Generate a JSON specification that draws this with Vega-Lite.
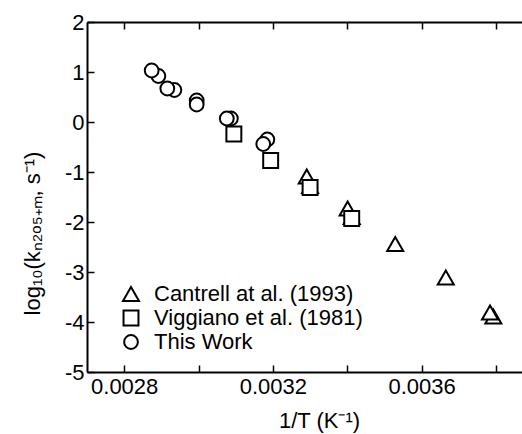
{
  "$schema": "https://vega.github.io/schema/vega-lite/v6.json",
  "width": 435,
  "height": 350,
  "autosize": {"type": "none"},
  "padding": {"left": 87, "top": 22, "right": 0, "bottom": 62},
  "config": {
    "view": {"stroke": null},
    "font": "Liberation Sans",
    "axis": {
      "domainColor": "black",
      "domainWidth": 2,
      "tickColor": "black",
      "tickWidth": 1.5,
      "tickSize": -7,
      "labelFont": "Liberation Sans",
      "labelFontSize": 22,
      "labelColor": "black",
      "titleFont": "Liberation Sans",
      "titleFontSize": 22,
      "titleFontWeight": "normal",
      "titleColor": "black",
      "grid": false
    },
    "legend": {
      "labelFont": "Liberation Sans",
      "labelFontSize": 22,
      "labelColor": "black"
    }
  },
  "data": {
    "values": [
      {"series": "Cantrell at al. (1993)", "invT": 0.003793, "logk": -3.89},
      {"series": "Cantrell at al. (1993)", "invT": 0.003784, "logk": -3.81},
      {"series": "Cantrell at al. (1993)", "invT": 0.003665, "logk": -3.11},
      {"series": "Cantrell at al. (1993)", "invT": 0.003529, "logk": -2.44},
      {"series": "Cantrell at al. (1993)", "invT": 0.003412, "logk": -1.9},
      {"series": "Cantrell at al. (1993)", "invT": 0.003401, "logk": -1.73},
      {"series": "Cantrell at al. (1993)", "invT": 0.0033, "logk": -1.28},
      {"series": "Cantrell at al. (1993)", "invT": 0.003291, "logk": -1.09},
      {"series": "Viggiano et al. (1981)", "invT": 0.003412, "logk": -1.93},
      {"series": "Viggiano et al. (1981)", "invT": 0.0033, "logk": -1.31},
      {"series": "Viggiano et al. (1981)", "invT": 0.003194, "logk": -0.77},
      {"series": "Viggiano et al. (1981)", "invT": 0.003095, "logk": -0.24},
      {"series": "This Work", "invT": 0.003185, "logk": -0.35},
      {"series": "This Work", "invT": 0.003174, "logk": -0.44},
      {"series": "This Work", "invT": 0.003087, "logk": 0.07},
      {"series": "This Work", "invT": 0.003076, "logk": 0.07},
      {"series": "This Work", "invT": 0.002995, "logk": 0.43},
      {"series": "This Work", "invT": 0.002995, "logk": 0.35},
      {"series": "This Work", "invT": 0.002935, "logk": 0.64},
      {"series": "This Work", "invT": 0.002916, "logk": 0.67},
      {"series": "This Work", "invT": 0.002892, "logk": 0.92},
      {"series": "This Work", "invT": 0.002874, "logk": 1.03}
    ]
  },
  "resolve": {"axis": {"x": "independent"}},
  "layer": [
    {
      "mark": {"type": "point", "opacity": 0},
      "encoding": {
        "x": {
          "field": "invT", "type": "quantitative",
          "scale": {"domain": [0.0027, 0.00387], "nice": false, "zero": false},
          "axis": {
            "orient": "top",
            "values": [0.0028, 0.003, 0.0032, 0.0034, 0.0036, 0.0038],
            "labels": false,
            "title": null
          }
        },
        "y": {"field": "logk", "type": "quantitative"}
      }
    },
    {
      "mark": {
        "type": "point",
        "filled": true,
        "fill": "white",
        "stroke": "black",
        "strokeWidth": 2,
        "opacity": 1,
        "fillOpacity": 1
      },
      "encoding": {
        "x": {
          "field": "invT", "type": "quantitative",
          "scale": {"domain": [0.0027, 0.00387], "nice": false, "zero": false},
          "axis": {
            "orient": "bottom",
            "values": [0.0028, 0.003, 0.0032, 0.0034, 0.0036, 0.0038],
            "labelExpr": "round(datum.value * 10000) % 4 == 0 ? format(datum.value, '.4f') : ''",
            "labelPadding": 11,
            "title": "1/T (K⁻¹)",
            "titlePadding": 13,
            "titleX": 232
          }
        },
        "y": {
          "field": "logk", "type": "quantitative",
          "scale": {"domain": [-5, 2], "nice": false, "zero": false},
          "axis": {
            "values": [-5, -4, -3, -2, -1, 0, 1, 2],
            "labelExpr": "toString(datum.value)",
            "labelPadding": 10,
            "title": "log₁₀(kₙ₂ₒ₅₊ₘ, s⁻¹)",
            "titlePadding": 20,
            "titleY": 211
          }
        },
        "shape": {
          "field": "series", "type": "nominal",
          "scale": {
            "domain": ["Cantrell at al. (1993)", "Viggiano et al. (1981)", "This Work"],
            "range": ["triangle-up", "square", "circle"]
          },
          "legend": {
            "title": null,
            "orient": "none",
            "legendX": 33,
            "legendY": 261,
            "padding": 0,
            "rowPadding": 1,
            "labelOffset": 12,
            "labelLimit": 0,
            "symbolFillColor": "white",
            "symbolStrokeColor": "black",
            "symbolStrokeWidth": 2
          }
        },
        "size": {
          "field": "series", "type": "nominal",
          "scale": {
            "domain": ["Cantrell at al. (1993)", "Viggiano et al. (1981)", "This Work"],
            "range": [256, 190, 225]
          }
        }
      }
    }
  ]
}
